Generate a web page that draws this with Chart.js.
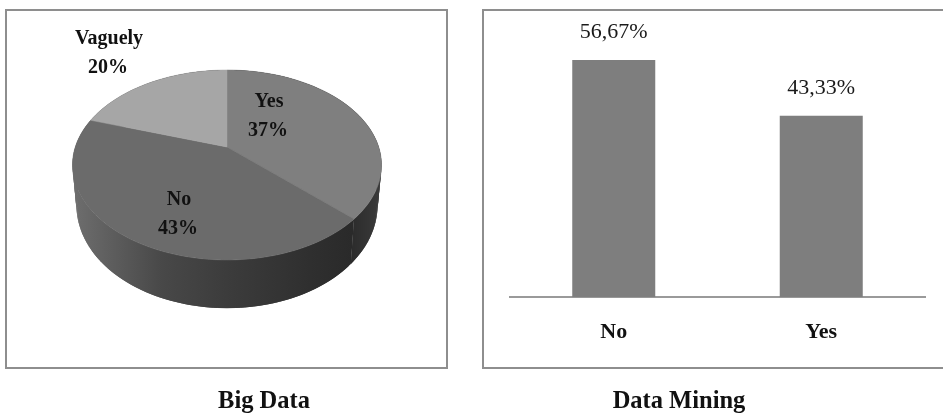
<!DOCTYPE html>
<html>
<head>
<meta charset="utf-8">
<title>Big Data and Data Mining awareness</title>
<script src="https://cdn.jsdelivr.net/npm/chart.js@4/dist/chart.umd.min.js"></script>
<style>
  html, body { margin: 0; padding: 0; background: #fff; overflow: hidden; }
  body { position: relative; width: 943px; height: 413px; overflow: hidden; }
  canvas { position: absolute; top: 0; }
  #pie { left: 0; }
  #bars { left: 415px; }
</style>
</head>
<body>
<canvas id="pie" width="528" height="416"></canvas>
<canvas id="bars" width="528" height="416"></canvas>
<script>
// Survey results
const pieTitle = 'Big Data';
const pieLabels = ['Yes', 'No', 'Vaguely'];
const pieValues = [37, 43, 20];
const pieColors = ['#7f7f7f', '#6b6b6b', '#a6a6a6'];

const barTitle = 'Data Mining';
const barLabels = ['No', 'Yes'];
const barValues = [56.67, 43.33];
const barColor = '#7e7e7e';

const SERIF = '"Liberation Serif", "Times New Roman", serif';
const FRAME_COLOR = '#8e8e8e';

// Panel outline shared by both charts, given in canvas coordinates
const panelFrame = {
  id: 'panelFrame',
  beforeDraw(chart, args, opts) {
    const c = chart.ctx;
    c.save();
    c.strokeStyle = FRAME_COLOR;
    c.lineWidth = 2;
    c.strokeRect(opts.x, opts.y, opts.w, opts.h);
    c.restore();
  }
};

// Tilted disc: a unit circle seen in perspective, so the hub sits above
// the visual centre of the ellipse and the near edge looks larger.
const DISC = { cx: 227, hubY: 147, halfW: 151.7, a: 63.7, c: -0.1895, baseScale: 0.975, dropBase: 37.5, dropNear: 13.5 };

function project(angle, base) {
  const u = Math.cos(angle), v = Math.sin(angle);
  const d = 1 + DISC.c * v;
  const s = base ? DISC.baseScale : 1;
  const offsetY = (DISC.a * v + DISC.hubY) / d - DISC.hubY;
  const drop = base ? DISC.dropBase + DISC.dropNear * v : 0;
  return { x: DISC.cx + s * DISC.halfW * u / d, y: DISC.hubY + s * offsetY + drop };
}

function traceArc(c, start, end) {
  const steps = Math.max(8, Math.ceil((end - start) * 40));
  for (let i = 0; i <= steps; i++) {
    const p = project(start + (end - start) * i / steps, false);
    c.lineTo(p.x, p.y);
  }
}

function sideShade(c, index) {
  if (index === 0) {
    const g = c.createLinearGradient(350, 0, 382, 0);
    g.addColorStop(0, '#2b2b2b');
    g.addColorStop(1, '#3b3b3b');
    return g;
  }
  const g = c.createLinearGradient(73, 0, 352, 0);
  g.addColorStop(0, '#6e6e6e');
  g.addColorStop(0.15, '#5c5c5c');
  g.addColorStop(0.32, '#484848');
  g.addColorStop(0.55, '#3c3c3c');
  g.addColorStop(0.85, '#2f2f2f');
  g.addColorStop(1, '#2a2a2a');
  return g;
}

// Wall built from overlapping quads so folds at the silhouette stay filled
function drawWall(c, arc, index) {
  c.fillStyle = sideShade(c, index);
  const span = arc.endAngle - arc.startAngle;
  const steps = Math.max(8, Math.ceil(span * 40));
  for (let i = 0; i < steps; i++) {
    const a0 = arc.startAngle + span * i / steps;
    const a1 = arc.startAngle + span * Math.min(i + 2, steps) / steps;
    const p = [project(a0, false), project(a1, false), project(a1, true), project(a0, true)];
    c.beginPath();
    c.moveTo(p[0].x, p[0].y);
    c.lineTo(p[1].x, p[1].y);
    c.lineTo(p[2].x, p[2].y);
    c.lineTo(p[3].x, p[3].y);
    c.closePath();
    c.fill();
  }
}

const tiltedDisc = {
  id: 'tiltedDisc',
  beforeDatasetDraw(chart, args) {
    const c = chart.ctx;
    const arcs = args.meta.data;
    c.save();
    [2, 1, 0].forEach(i => drawWall(c, arcs[i], i));
    arcs.forEach((arc, i) => {
      c.fillStyle = pieColors[i];
      c.strokeStyle = pieColors[i];
      c.lineWidth = 0.5;
      c.beginPath();
      c.moveTo(DISC.cx, DISC.hubY);
      traceArc(c, arc.startAngle, arc.endAngle);
      c.closePath();
      c.fill();
      c.stroke();
    });
    c.restore();
    return false;
  }
};

// Category and share printed on two lines
const PIE_LABEL_SPOTS = [[269, 102], [179, 200], [109, 39]];
const pieLabelText = {
  id: 'pieLabelText',
  afterDatasetsDraw(chart) {
    const c = chart.ctx;
    c.save();
    c.fillStyle = '#111';
    c.font = 'bold 20px ' + SERIF;
    c.textAlign = 'center';
    c.textBaseline = 'middle';
    pieLabels.forEach((name, i) => {
      const [x, y] = PIE_LABEL_SPOTS[i];
      c.fillText(name, x, y);
      c.fillText(pieValues[i] + '%', x - 1, y + 29);
    });
    c.restore();
  }
};

new Chart(document.getElementById('pie'), {
  type: 'pie',
  data: { labels: pieLabels, datasets: [{ data: pieValues, backgroundColor: pieColors, borderWidth: 0 }] },
  plugins: [panelFrame, tiltedDisc, pieLabelText],
  options: {
    responsive: false,
    animation: false,
    layout: { padding: 0 },
    plugins: {
      legend: { display: false },
      tooltip: { enabled: false },
      panelFrame: { x: 6, y: 10, w: 441, h: 358 },
      title: {
        display: true,
        text: pieTitle,
        position: 'bottom',
        color: '#111',
        font: { family: SERIF, size: 24.5, weight: 'bold' },
        padding: 0
      }
    }
  }
});

// Value above each column, with a decimal comma
const barValueText = {
  id: 'barValueText',
  afterDatasetsDraw(chart) {
    const c = chart.ctx;
    c.save();
    c.fillStyle = '#1a1a1a';
    c.font = '22px ' + SERIF;
    c.textAlign = 'center';
    c.textBaseline = 'middle';
    chart.getDatasetMeta(0).data.forEach((bar, i) => {
      c.fillText(barValues[i].toFixed(2).replace('.', ',') + '%', bar.x, bar.y - 28);
    });
    c.restore();
  }
};

// Invisible side axes reserve the margins left and right of the plot
const marginAxis = (position, width) => ({
  position,
  min: 0,
  max: 65,
  grid: { display: false, drawTicks: false },
  border: { display: false },
  ticks: { display: false },
  afterFit(scale) { scale.width = width; }
});

new Chart(document.getElementById('bars'), {
  type: 'bar',
  data: {
    labels: barLabels,
    datasets: [{ data: barValues, backgroundColor: barColor, barPercentage: 0.4, categoryPercentage: 1 }]
  },
  plugins: [panelFrame, barValueText],
  options: {
    responsive: false,
    animation: false,
    layout: { padding: { top: 25 } },
    scales: {
      y: marginAxis('left', 95),
      yEnd: marginAxis('right', 18),
      x: {
        grid: { display: false, drawTicks: false },
        border: { display: true, color: '#9a9a9a', width: 2 },
        ticks: {
          color: '#111',
          padding: 22,
          maxRotation: 0,
          font: { family: SERIF, size: 22, weight: 'bold' }
        }
      }
    },
    plugins: {
      legend: { display: false },
      tooltip: { enabled: false },
      panelFrame: { x: 68, y: 10, w: 480, h: 358 },
      title: {
        display: true,
        text: barTitle,
        position: 'bottom',
        color: '#111',
        font: { family: SERIF, size: 24.5, weight: 'bold' },
        padding: { top: 19, bottom: 0 }
      }
    }
  }
});
</script>
</body>
</html>
